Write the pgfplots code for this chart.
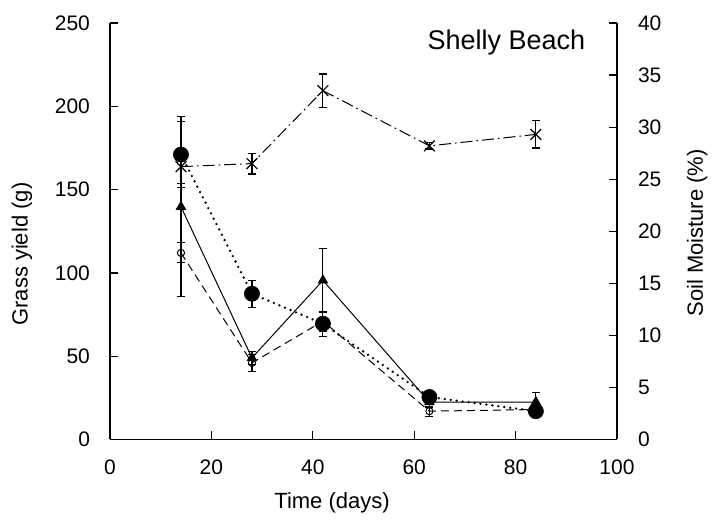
\documentclass[border=0pt]{standalone}
\usepackage{pgfplots}
\pgfplotsset{compat=1.18}
\usepackage{fontspec}
\setmainfont{Liberation Sans}
\begin{document}
\begin{tikzpicture}
\pgfplotsset{
  common/.style={
    scale only axis, width=253.5pt, height=208.25pt,
    xmin=0, xmax=100,
    axis line style={-, line width=0.7pt},
    tick align=inside,
    major tick length=4pt,
    tick style={line width=0.6pt, black},
    /pgf/number format/assume math mode=true,
    tick label style={font=\fontsize{10.5}{12}\selectfont},
    label style={font=\fontsize{11}{13}\selectfont},
    error bars/error bar style={line width=0.55pt, solid},
    error bars/error mark options={line width=0.55pt, mark size=2pt, rotate=90, solid},
  }
}
\begin{axis}[common,
  axis x line*=bottom, axis y line*=left,
  ymin=0, ymax=250,
  xtick={0,20,40,60,80,100},
  ytick={0,50,100,150,200,250},
  yticklabel style={xshift=-6.5pt},
  xticklabel style={yshift=-6.5pt},
  xlabel={Time (days)},
  ylabel={Grass yield (g)},
  xlabel style={at={(axis description cs:0.438,0)}, anchor=center, yshift=-31.5pt},
  ylabel style={at={(axis description cs:-0.1736,0.445)}, anchor=center},
]
\coordinate (ll) at (rel axis cs:0,0);
\coordinate (ur) at (rel axis cs:1,1);
% open circle, dashed
\addplot[black, line width=0.5pt, dash pattern=on 4pt off 2.5pt,
  mark=o, mark size=1.8pt, mark options={solid, line width=0.5pt},
  error bars/.cd, y dir=both, y explicit]
  table[x=x, y=y, y error=e] {
x y e
14 112 6
28 46 5
42 71 6
63 17 3
84 18 2
};
% triangle, solid
\addplot[black, line width=0.5pt,
  mark=triangle*, mark size=2.6pt, mark options={solid},
  error bars/.cd, y dir=both, y explicit]
  table[x=x, y=y, y error=e] {
x y e
14 139.7 54
28 49 4
42 95.5 19
63 22.5 3
84 22.5 5.5
};
% filled circle, dotted
\addplot[black, line width=1.3pt, line cap=round, dash pattern=on 0pt off 3pt,
  mark=*, mark size=3.8pt, mark options={solid, line width=0.3pt},
  error bars/.cd, y dir=both, y explicit]
  table[x=x, y=y, y error=e] {
x y e
14 171 20
28 87.5 8
42 69.5 7.5
63 25.5 2
84 17 2
};
\node[font=\fontsize{13.5}{16}\selectfont] at (axis cs:78.2,238) {Shelly Beach};
\end{axis}
\begin{axis}[common,
  axis x line=none, axis y line*=right,
  ymin=0, ymax=40,
  ytick={0,5,10,15,20,25,30,35,40},
  yticklabel style={xshift=7pt},
  ylabel={Soil Moisture (\%)},
  ylabel style={at={(axis description cs:1.158,0.496)}, anchor=center},
]
\addplot[black, line width=0.5pt, dash pattern=on 6pt off 2pt on 0.8pt off 2pt,
  mark=x, mark size=3.8pt, mark options={solid, line width=0.6pt},
  error bars/.cd, y dir=both, y explicit]
  table[x=x, y=y, y error=e] {
x y e
14 26.2 1.6
28 26.5 1.0
42 33.5 1.6
63 28.2 0.3
84 29.3 1.3
};
\end{axis}
\pgfresetboundingbox
\path[use as bounding box] ([xshift=-55pt,yshift=-40.25pt]ll) rectangle ([xshift=48.5pt,yshift=11.5pt]ur);
\end{tikzpicture}
\end{document}
